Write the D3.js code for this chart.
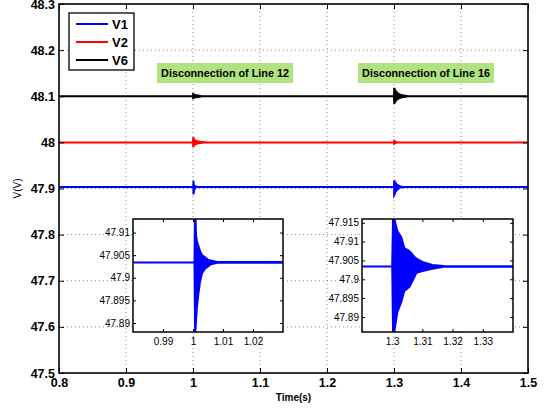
<!DOCTYPE html>
<html><head><meta charset="utf-8">
<script src="https://cdn.jsdelivr.net/npm/d3@7"></script>
<style>
html,body{margin:0;padding:0;background:#fff;}
svg{display:block;font-family:"Liberation Sans",Arial,sans-serif;}
</style></head>
<body>
<svg id="chart" width="545" height="408"></svg>
<script>
// ---------- data ----------
const xTicks = [0.8, 0.9, 1.0, 1.1, 1.2, 1.3, 1.4, 1.5];
const xTickLabels = ["0.8", "0.9", "1", "1.1", "1.2", "1.3", "1.4", "1.5"];
const yTicks = [47.5, 47.6, 47.7, 47.8, 47.9, 48.0, 48.1, 48.2, 48.3];
const yTickLabels = ["47.5", "47.6", "47.7", "47.8", "47.9", "48", "48.1", "48.2", "48.3"];

const seriesNames = ["V1", "V2", "V6"];

// V1 envelope (upper / lower) around steady value
const v1Time = [0.8, 1.0005, 1.0007, 1.001, 1.0013, 1.0018, 1.0023, 1.003, 1.004, 1.005, 1.006, 1.008, 1.3, 1.3003, 1.3007, 1.3017, 1.303, 1.304, 1.3057, 1.3073, 1.308, 1.31, 1.3133, 1.317, 1.5];
const v1High = [47.9034, 47.9034, 47.917, 47.9095, 47.908, 47.907, 47.906, 47.905, 47.9045, 47.904, 47.9038, 47.9035, 47.9034, 47.918, 47.916, 47.9128, 47.9112, 47.9083, 47.9075, 47.906, 47.9055, 47.9046, 47.9038, 47.9035, 47.9034];
const v1Low  = [47.9034, 47.9034, 47.887, 47.8905, 47.8935, 47.8965, 47.899, 47.901, 47.902, 47.9025, 47.903, 47.9033, 47.9034, 47.885, 47.886, 47.8913, 47.894, 47.8969, 47.898, 47.9005, 47.9017, 47.9022, 47.9028, 47.9033, 47.9034];

const v2Time = [0.8, 1.0, 1.0003, 1.002, 1.005, 1.01, 1.021, 1.3, 1.3003, 1.303, 1.306, 1.5];
const v2High = [48.0, 48.0, 48.011, 48.005, 48.003, 48.0015, 48.0, 48.0, 48.003, 48.001, 48.0, 48.0];
const v2Low  = [48.0, 48.0, 47.99, 47.995, 47.997, 47.9985, 48.0, 48.0, 47.997, 47.999, 48.0, 48.0];

const v6Time = [0.8, 1.0, 1.0003, 1.003, 1.008, 1.013, 1.3, 1.3003, 1.302, 1.305, 1.31, 1.321, 1.5];
const v6High = [48.1, 48.1, 48.105, 48.103, 48.1015, 48.1, 48.1, 48.118, 48.112, 48.107, 48.103, 48.1, 48.1];
const v6Low  = [48.1, 48.1, 48.096, 48.098, 48.0985, 48.1, 48.1, 48.084, 48.089, 48.094, 48.097, 48.1, 48.1];

const eventTimes = [1.0, 1.3];
const eventLabels = ["Disconnection of Line 12", "Disconnection of Line 16"];

const inset1XTicks = [0.99, 1.0, 1.01, 1.02];
const inset1XLabels = ["0.99", "1", "1.01", "1.02"];
const inset1YTicks = [47.89, 47.895, 47.9, 47.905, 47.91];
const inset1YLabels = ["47.89", "47.895", "47.9", "47.905", "47.91"];
const inset2XTicks = [1.3, 1.31, 1.32, 1.33];
const inset2XLabels = ["1.3", "1.31", "1.32", "1.33"];
const inset2YTicks = [47.89, 47.895, 47.9, 47.905, 47.91, 47.915];
const inset2YLabels = ["47.89", "47.895", "47.9", "47.905", "47.91", "47.915"];

// ---------- drawing ----------
const svg = d3.select("#chart");
const colors = {"V1": "#0000ff", "V2": "#ff0000", "V6": "#000000"};
const seriesData = {
  "V1": v1Time.map((t, i) => ({t, hi: v1High[i], lo: v1Low[i]})),
  "V2": v2Time.map((t, i) => ({t, hi: v2High[i], lo: v2Low[i]})),
  "V6": v6Time.map((t, i) => ({t, hi: v6High[i], lo: v6Low[i]}))
};

const L = 59, R = 528, T = 4, B = 373;
const x = d3.scaleLinear().domain([0.8, 1.5]).range([L, R]);
const y = d3.scaleLinear().domain([47.5, 48.3]).range([B, T]);

svg.append("defs").append("clipPath").attr("id", "mainclip")
  .append("rect").attr("x", L).attr("y", T).attr("width", R - L).attr("height", B - T);

// grid
const grid = svg.append("g").attr("stroke", "#555").attr("stroke-width", 0.7).attr("stroke-dasharray", "1,3");
grid.selectAll("line.gx").data(xTicks.slice(1, -1)).join("line")
  .attr("x1", d => x(d)).attr("x2", d => x(d)).attr("y1", T).attr("y2", B);
grid.selectAll("line.gy").data(yTicks.slice(1, -1)).join("line").attr("class", "gy")
  .attr("x1", L).attr("x2", R).attr("y1", d => y(d)).attr("y2", d => y(d));

// series
const plot = svg.append("g").attr("clip-path", "url(#mainclip)");
function drawSeries(g, xs, ys, width) {
  const area = d3.area().x(d => xs(d.t)).y0(d => ys(d.lo)).y1(d => ys(d.hi));
  seriesNames.forEach(n => {
    g.append("path").datum(seriesData[n]).attr("d", area)
      .attr("fill", colors[n]).attr("stroke", colors[n]).attr("stroke-width", width)
      .attr("stroke-linejoin", "miter");
  });
}
drawSeries(plot, x, y, 2);

// axes
const fmtX = (d, i) => xTickLabels[i];
const fmtY = (d, i) => yTickLabels[i];
const ax = svg.append("g").attr("transform", `translate(0,${B})`)
  .call(d3.axisBottom(x).tickValues(xTicks).tickFormat(fmtX).tickSizeInner(-5).tickSizeOuter(0).tickPadding(5));
const ay = svg.append("g").attr("transform", `translate(${L},0)`)
  .call(d3.axisLeft(y).tickValues(yTicks).tickFormat(fmtY).tickSizeInner(-5).tickSizeOuter(0).tickPadding(4));
const axTop = svg.append("g").attr("transform", `translate(0,${T})`)
  .call(d3.axisTop(x).tickValues(xTicks).tickFormat("").tickSizeInner(-5).tickSizeOuter(0));
const ayR = svg.append("g").attr("transform", `translate(${R},0)`)
  .call(d3.axisRight(y).tickValues(yTicks).tickFormat("").tickSizeInner(-5).tickSizeOuter(0));
[ax, ay, axTop, ayR].forEach(g => {
  g.select(".domain").remove();
  g.selectAll(".tick line").attr("stroke", "#000").attr("stroke-width", 1);
  g.selectAll("text").attr("font-size", 12.5).attr("font-weight", "bold").attr("fill", "#000")
    .attr("font-family", "Liberation Sans, Arial, sans-serif");
});
svg.append("rect").attr("x", L).attr("y", T).attr("width", R - L).attr("height", B - T)
  .attr("fill", "none").attr("stroke", "#000").attr("stroke-width", 1.6);

svg.append("text").attr("x", x(1.15)).attr("y", 401).attr("text-anchor", "middle")
  .attr("font-size", 10).attr("font-weight", "bold").text("Time(s)");
svg.append("text").attr("transform", `translate(21,${y(47.9)}) rotate(-90)`).attr("text-anchor", "middle")
  .attr("font-size", 10).text("V(V)");

// annotations
eventTimes.forEach((t, i) => {
  const cx = x(t) + 32;
  const g = svg.append("g");
  g.append("rect").attr("x", cx - 68).attr("y", 63).attr("width", 136).attr("height", 20).attr("fill", "#b0e37f");
  g.append("text").attr("x", cx).attr("y", 77).attr("text-anchor", "middle")
    .attr("font-size", 10.8).attr("font-weight", "bold").text(eventLabels[i]);
});

// legend
const lg = svg.append("g");
lg.append("rect").attr("x", 69).attr("y", 13).attr("width", 65).attr("height", 57)
  .attr("fill", "#fff").attr("stroke", "#000").attr("stroke-width", 1.3);
seriesNames.forEach((n, i) => {
  const yy = 24 + i * 18;
  lg.append("line").attr("x1", 76).attr("x2", 108).attr("y1", yy).attr("y2", yy)
    .attr("stroke", colors[n]).attr("stroke-width", 2);
  lg.append("text").attr("x", 112).attr("y", yy + 5).attr("font-size", 13).attr("font-weight", "bold").text(n);
});

// insets
function inset(id, x0, x1, y0, y1, xd, yd, xt, xl, yt, yl) {
  const xs = d3.scaleLinear().domain(xd).range([x0, x1]);
  const ys = d3.scaleLinear().domain(yd).range([y1, y0]);
  svg.append("defs").append("clipPath").attr("id", id)
    .append("rect").attr("x", x0).attr("y", y0).attr("width", x1 - x0).attr("height", y1 - y0);
  svg.append("rect").attr("x", x0).attr("y", y0).attr("width", x1 - x0).attr("height", y1 - y0).attr("fill", "#fff");
  const g = svg.append("g").attr("clip-path", `url(#${id})`);
  const area = d3.area().x(d => xs(d.t)).y0(d => ys(d.lo)).y1(d => ys(d.hi));
  g.append("path").datum(seriesData["V1"]).attr("d", area)
    .attr("fill", colors["V1"]).attr("stroke", colors["V1"]).attr("stroke-width", 2);
  const a1 = svg.append("g").attr("transform", `translate(0,${y1})`)
    .call(d3.axisBottom(xs).tickValues(xt).tickFormat((d, i) => xl[i]).tickSizeInner(-3).tickSizeOuter(0).tickPadding(6));
  const a2 = svg.append("g").attr("transform", `translate(${x0},0)`)
    .call(d3.axisLeft(ys).tickValues(yt).tickFormat((d, i) => yl[i]).tickSizeInner(-3).tickSizeOuter(0).tickPadding(3));
  const a3 = svg.append("g").attr("transform", `translate(0,${y0})`)
    .call(d3.axisTop(xs).tickValues(xt).tickFormat("").tickSizeInner(-3).tickSizeOuter(0));
  const a4 = svg.append("g").attr("transform", `translate(${x1},0)`)
    .call(d3.axisRight(ys).tickValues(yt).tickFormat("").tickSizeInner(-3).tickSizeOuter(0));
  [a1, a2, a3, a4].forEach(a => {
    a.select(".domain").remove();
    a.selectAll(".tick line").attr("stroke", "#000");
    a.selectAll("text").attr("font-size", 10).attr("fill", "#000")
      .attr("font-family", "Liberation Sans, Arial, sans-serif");
  });
  svg.append("rect").attr("x", x0).attr("y", y0).attr("width", x1 - x0).attr("height", y1 - y0)
    .attr("fill", "none").attr("stroke", "#000").attr("stroke-width", 1.5);
}
inset("in1", 133, 283, 219, 332, [0.98, 1.03], [47.888, 47.913], inset1XTicks, inset1XLabels, inset1YTicks, inset1YLabels);
inset("in2", 362, 513, 219, 332, [1.29, 1.34], [47.886, 47.916], inset2XTicks, inset2XLabels, inset2YTicks, inset2YLabels);
</script>
</body></html>
